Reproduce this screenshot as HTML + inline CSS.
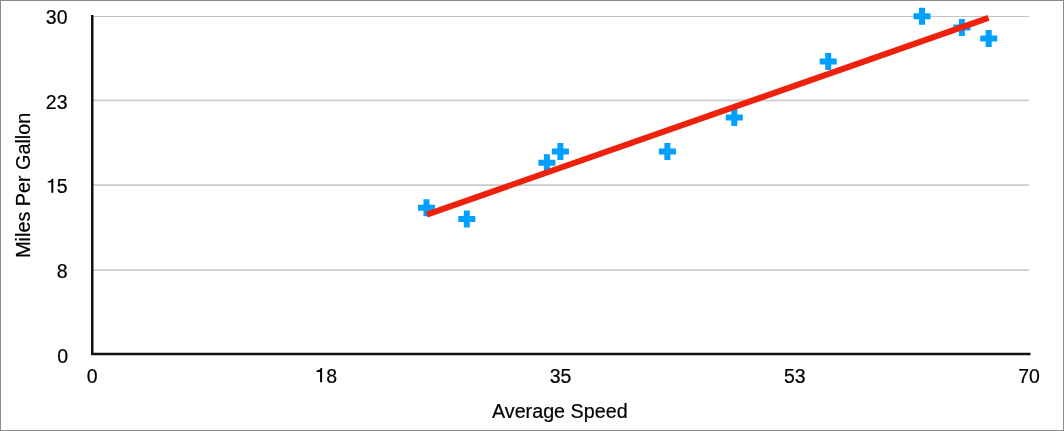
<!DOCTYPE html>
<html><head><meta charset="utf-8"><style>
html,body{margin:0;padding:0;background:#fff;}
.wrap{position:relative;width:1064px;height:431px;box-sizing:border-box;border:1px solid #8a8a8e;overflow:hidden;background:#fff;}
svg{position:absolute;left:-1px;top:-1px;will-change:transform;}
text{font-family:"Liberation Sans",sans-serif;fill:#000;font-size:19.5px;stroke:#000;stroke-width:0.2px;stroke-linejoin:round;}
</style></head><body><div class="wrap">
<svg width="1064" height="431" viewBox="0 0 1064 431" xmlns="http://www.w3.org/2000/svg">
<g stroke="#cbcbcb" stroke-width="1.6">
<line x1="93" y1="16.5" x2="1029" y2="16.5" stroke-width="1.1" stroke="#c4c4c4"/>
<line x1="93" y1="100.35" x2="1029" y2="100.35"/>
<line x1="93" y1="185.1" x2="1029" y2="185.1"/>
<line x1="93" y1="270.1" x2="1029" y2="270.1"/>
</g>
<path d="M92.25 15V354H1030.5" fill="none" stroke="#121212" stroke-width="2.5"/>
<text transform="translate(67.5 24.05) scale(1.0 1.06)" text-anchor="end">30</text>
<text transform="translate(67.5 108.55) scale(1.0 1.06)" text-anchor="end">23</text>
<text transform="translate(67.5 193.05) scale(1.0 1.06)" text-anchor="end">5</text>
<text transform="translate(67.5 277.55) scale(1.0 1.06)" text-anchor="end">8</text>
<text transform="translate(68.0 362.55) scale(1.0 1.06)" text-anchor="end">0</text>
<text transform="translate(92.2 382.7) scale(1.0 1.06)" text-anchor="middle">0</text>
<text transform="translate(560.5 382.7) scale(1.0 1.06)" text-anchor="middle">35</text>
<text transform="translate(794.8 382.7) scale(1.0 1.06)" text-anchor="middle">53</text>
<text transform="translate(1029 382.7) scale(1.0 1.06)" text-anchor="middle">70</text>
<text transform="translate(326.3 382.7) scale(1.0 1.06)" text-anchor="start">8</text>
<path fill="#000" d="M51.30 192.85H53.30V178.65H51.90C51.50 180.15 49.90 181.05 47.80 181.15V182.55H51.30ZM320.10 382.20H322.10V368.00H320.70C320.30 369.50 318.70 370.40 316.60 370.50V371.90H320.10Z"/>
<text transform="translate(559.8 417.7) scale(1.012 1.04)" text-anchor="middle">Average Speed</text>
<text transform="translate(29.5 185.35) rotate(-90) scale(1.015 1)" text-anchor="middle">Miles Per Gallon</text>
<path fill="#00a0ff" d="M417.95 204.70h5.5v-5.5h6v5.5h5.5v6h-5.5v5.5h-6v-5.5h-5.5zM458.30 216.10h5.5v-5.5h6v5.5h5.5v6h-5.5v5.5h-6v-5.5h-5.5zM538.40 159.70h5.5v-5.5h6v5.5h5.5v6h-5.5v5.5h-6v-5.5h-5.5zM551.90 148.40h5.5v-5.5h6v5.5h5.5v6h-5.5v5.5h-6v-5.5h-5.5zM658.90 148.40h5.5v-5.5h6v5.5h5.5v6h-5.5v5.5h-6v-5.5h-5.5zM725.80 114.60h5.5v-5.5h6v5.5h5.5v6h-5.5v5.5h-6v-5.5h-5.5zM819.70 58.40h5.5v-5.5h6v5.5h5.5v6h-5.5v5.5h-6v-5.5h-5.5zM913.50 13.20h5.5v-5.5h6v5.5h5.5v6h-5.5v5.5h-6v-5.5h-5.5zM953.40 24.50h5.5v-5.5h6v5.5h5.5v6h-5.5v5.5h-6v-5.5h-5.5zM980.20 35.60h5.5v-5.5h6v5.5h5.5v6h-5.5v5.5h-6v-5.5h-5.5z"/>
<line x1="426.8" y1="214.6" x2="988.5" y2="17.9" stroke="#ee220c" stroke-width="6"/>
</svg></div></body></html>
